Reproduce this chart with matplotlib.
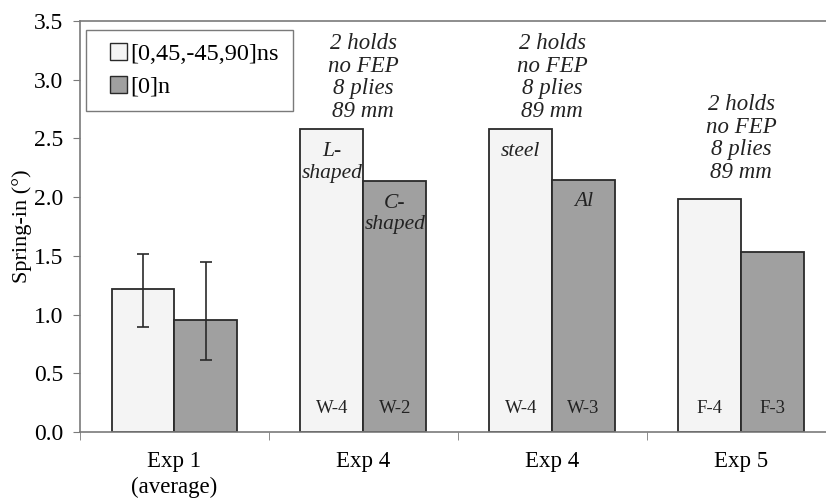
import numpy as np
import matplotlib.pyplot as plt
from matplotlib.patches import Patch, Rectangle

plt.rcParams["font.family"] = ["Liberation Serif", "DejaVu Serif"]

# ------------------------------------------------------------
# Data
# ------------------------------------------------------------

categories = ["Exp 1\n(average)", "Exp 4", "Exp 4", "Exp 5"]
series_names = ["[0,45,-45,90]ns", "[0]n"]

quasi_iso = [1.215, 2.58, 2.58, 1.98]
unidir = [0.954, 2.14, 2.15, 1.53]

# asymmetric error bars only for the Exp 1 averages
quasi_err_low = [0.323, 0, 0, 0]
quasi_err_high = [0.301, 0, 0, 0]
unidir_err_low = [0.338, 0, 0, 0]
unidir_err_high = [0.491, 0, 0, 0]

panel_ids_left = ["", "W-4", "W-4", "F-4"]
panel_ids_right = ["", "W-2", "W-3", "F-3"]
inner_notes_left = ["", "L-\nshaped", "steel", ""]
inner_notes_right = ["", "C-\nshaped", "Al", ""]
conditions = ["", "2 holds\nno FEP\n8 plies\n89 mm", "2 holds\nno FEP\n8 plies\n89 mm",
              "2 holds\nno FEP\n8 plies\n89 mm"]

light = "#f4f4f4"
dark = "#a0a0a0"
edge = "#2a2a2a"
axis_grey = "#7a7a7a"

# gap between the tallest bar and the condition notes (data units)
note_gap = [0, 0.06, 0.06, 0.14]

# ------------------------------------------------------------
# Plot
# ------------------------------------------------------------

fig = plt.figure(figsize=(8.26, 5.04), dpi=100)
ax = fig.add_axes([80 / 826, 1 - 432 / 504, 1 - 80 / 826, (432 - 21) / 504])

x = np.arange(len(categories))
w = 0.333

ax.bar(x - w / 2, quasi_iso, w, color=light, edgecolor=edge, linewidth=1.3, zorder=2)
ax.bar(x + w / 2, unidir, w, color=dark, edgecolor=edge, linewidth=1.3, zorder=2)

ax.errorbar(x[:1] - w / 2, quasi_iso[:1], yerr=[quasi_err_low[:1], quasi_err_high[:1]],
            fmt="none", ecolor=edge, elinewidth=1.2, capsize=4, capthick=1.2, zorder=3)
ax.errorbar(x[:1] + w / 2, unidir[:1], yerr=[unidir_err_low[:1], unidir_err_high[:1]],
            fmt="none", ecolor=edge, elinewidth=1.2, capsize=4, capthick=1.2, zorder=3)

italic = dict(family="Liberation Serif", style="italic", color="#222")

# sample IDs at the foot of each bar, notes inside and above the bars
for i in range(len(categories)):
    if panel_ids_left[i]:
        ax.text(x[i] - w / 2, 0.2, panel_ids_left[i], ha="center", va="center", fontsize=13.5, color="#222")
        ax.text(x[i] + w / 2, 0.2, panel_ids_right[i], ha="center", va="center", fontsize=13.5, color="#222")
    if inner_notes_left[i]:
        ax.text(x[i] - w / 2, quasi_iso[i] - 0.11, inner_notes_left[i], ha="center", va="top",
                fontsize=15.5, linespacing=1.2, **italic)
        ax.text(x[i] + w / 2, unidir[i] - 0.11, inner_notes_right[i], ha="center", va="top",
                fontsize=15.5, linespacing=1.2, **italic)
    if conditions[i]:
        top = max(quasi_iso[i], unidir[i])
        ax.text(x[i], top + note_gap[i], conditions[i], ha="center", va="bottom",
                fontsize=16.5, linespacing=1.1, **italic)

ax.set_xlim(-0.5, 3.45)
ax.set_ylim(0, 3.5)
ax.set_yticks(np.arange(0, 3.51, 0.5))
ax.set_yticklabels([f"{v:.1f}" for v in np.arange(0, 3.51, 0.5)])
ax.set_xticks(x)
ax.set_xticklabels(categories, fontsize=16.5, linespacing=1.25)
ax.set_xticks(np.arange(-0.5, 3.5, 1), minor=True)
ax.tick_params(axis="x", which="major", length=0, pad=14)
ax.tick_params(axis="x", which="minor", length=6, direction="out", color=axis_grey)
ax.tick_params(axis="y", length=5, color=axis_grey, labelsize=17, pad=7)

for side in ["left", "bottom", "top"]:
    ax.spines[side].set_color(axis_grey)
    ax.spines[side].set_linewidth(1.2)
ax.spines["right"].set_visible(False)

ax.set_ylabel("Spring-in (°)", fontsize=16)
ax.yaxis.set_label_coords(-0.064, 0.5)

# legend box drawn separately so its padding can be wider than tall
ax.add_patch(Rectangle((0.008, 0.781), 0.2775, 0.197, transform=ax.transAxes,
                       facecolor="white", edgecolor=axis_grey, linewidth=1.0, zorder=4))
handles = [Patch(facecolor=light, edgecolor=edge), Patch(facecolor=dark, edgecolor=edge)]
leg = ax.legend(handles, series_names, loc="upper left", bbox_to_anchor=(0.04, 0.947),
                fontsize=17.5, handlelength=0.7, handleheight=0.7, handletextpad=0.15,
                borderpad=0, labelspacing=0.45, borderaxespad=0, frameon=False)
leg.set_zorder(5)

plt.savefig("out.png", dpi=100)
